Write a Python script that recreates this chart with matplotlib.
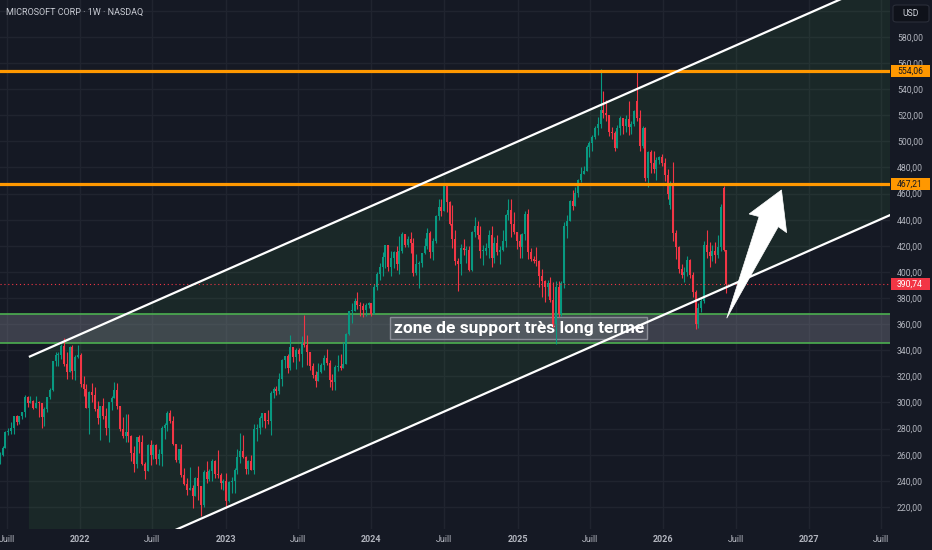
import numpy as np
import pandas as pd
import matplotlib
matplotlib.use("Agg")
import matplotlib.pyplot as plt
import matplotlib.dates as mdates
import matplotlib.transforms as mtransforms
from matplotlib.patches import Rectangle, Polygon, FancyBboxPatch

plt.rcParams['font.family'] = ['Roboto', 'DejaVu Sans']

# ---------------- DATA (weekly MSFT candles, week starting Monday) ----------------
FIRST_WEEK = '2021-06-14'

close_2021 = [259.4, 265.0, 277.7, 277.9, 280.8, 289.7, 284.9, 289.5, 292.9, 304.4, 299.7, 301.1, 295.7,
              299.9, 299.4, 289.1, 294.9, 304.2, 309.2, 331.6, 336.1, 336.7, 343.1, 329.7, 323.0, 342.5,
              323.8, 334.7, 336.3]
high_2021 = [262.3, 266.8, 278.0, 280.7, 285.0, 290.0, 290.2, 289.6, 293.0, 305.8, 305.3, 305.2, 302.1,
             305.3, 301.0, 299.3, 296.6, 304.5, 311.1, 332.0, 338.8, 338.9, 345.1, 349.7, 339.0, 343.0,
             344.3, 336.4, 343.8]
low_2021 = [253.2, 259.0, 265.5, 275.0, 276.0, 275.6, 283.0, 283.5, 287.0, 288.6, 296.8, 300.5, 295.0,
            297.0, 289.0, 280.3, 282.0, 292.8, 302.7, 308.5, 328.0, 328.3, 333.5, 328.1, 318.0, 323.0,
            318.3, 317.3, 334.3]

close_2022 = [314.0, 310.2, 296.0, 308.3, 305.9, 295.0, 287.9, 297.3, 289.9, 280.1, 300.4, 303.7, 309.4,
              297.0, 279.8, 274.0, 277.5, 274.7, 261.1, 252.6, 273.2, 270.0, 253.0, 247.7, 267.7, 259.6,
              267.7, 256.7, 260.4, 280.7, 282.9, 291.9, 286.2, 268.1, 256.1, 264.5, 244.7, 237.9, 232.9,
              234.2, 228.6, 242.1, 235.9, 221.4, 247.1, 241.2, 247.5, 255.0, 245.4, 244.7, 238.7, 239.8]
high_2022 = [338.0, 320.0, 313.9, 308.5, 315.1, 311.9, 300.9, 297.6, 303.1, 295.7, 300.7, 305.0, 316.0,
             315.1, 292.0, 289.0, 291.0, 290.9, 274.9, 266.9, 273.3, 275.0, 275.0, 254.7, 268.0, 271.4,
             268.2, 268.0, 264.0, 282.0, 284.3, 293.3, 294.2, 290.0, 267.5, 264.7, 268.0, 250.0, 242.0,
             250.3, 236.9, 243.0, 251.0, 236.0, 248.0, 255.0, 248.7, 256.5, 256.0, 263.9, 245.7, 241.5]
low_2022 = [311.5, 304.7, 295.6, 276.1, 300.0, 293.3, 283.8, 271.5, 287.6, 275.0, 270.0, 294.3, 304.7,
            295.2, 278.3, 273.0, 270.0, 270.0, 255.4, 246.4, 249.5, 261.2, 252.0, 241.5, 247.7, 252.5,
            256.6, 252.6, 252.0, 251.2, 271.7, 278.0, 284.3, 267.3, 254.3, 253.3, 242.8, 236.6, 229.0,
            233.0, 219.1, 230.6, 225.0, 213.4, 220.0, 238.0, 239.5, 239.8, 242.2, 242.1, 233.9, 233.3]

close_2023 = [224.9, 239.2, 240.2, 248.2, 258.4, 263.1, 258.1, 249.2, 255.3, 248.6, 279.4, 280.6, 288.3,
              291.6, 286.1, 285.8, 307.3, 310.7, 309.0, 318.3, 332.9, 335.4, 326.8, 342.3, 335.0, 340.5,
              337.2, 345.2, 343.8, 338.4, 327.8, 321.0, 316.5, 323.0, 328.7, 334.3, 330.2, 317.0, 315.8,
              327.3, 327.7, 326.7, 329.8, 352.8, 369.7, 369.9, 377.4, 374.5, 374.2, 370.7, 374.6, 376.0]
high_2023 = [245.8, 239.9, 243.3, 249.8, 264.7, 276.8, 275.0, 259.0, 255.9, 260.1, 283.3, 283.3, 289.3,
             292.1, 291.4, 294.0, 308.9, 312.0, 313.0, 322.6, 333.4, 335.9, 337.5, 351.5, 342.7, 342.0,
             341.6, 351.3, 366.8, 351.9, 338.5, 330.5, 324.4, 330.2, 330.2, 336.2, 340.9, 332.6, 322.0,
             329.0, 336.1, 336.9, 346.2, 353.0, 370.1, 376.4, 379.8, 384.3, 377.1, 376.0, 376.4, 377.0]
low_2023 = [219.4, 223.9, 230.9, 230.9, 245.5, 253.5, 257.6, 245.6, 245.6, 248.0, 245.5, 270.8, 275.5,
            281.2, 280.6, 283.2, 275.4, 303.4, 306.1, 306.7, 313.0, 326.5, 322.6, 325.2, 331.4, 326.0,
            332.1, 327.0, 342.2, 329.0, 324.8, 318.6, 311.6, 317.6, 322.3, 325.0, 328.5, 312.1, 309.5,
            309.6, 324.2, 325.0, 326.2, 331.6, 351.9, 361.1, 371.3, 371.3, 366.5, 365.8, 365.9, 372.0]

close_2024 = [367.8, 388.5, 398.7, 403.9, 411.2, 420.6, 404.1, 410.3, 415.5, 406.2, 416.4, 428.7, 420.7,
              425.5, 421.9, 399.1, 406.3, 406.7, 414.7, 420.2, 430.2, 415.1, 423.9, 442.6, 449.8, 447.0,
              467.6, 453.6, 437.1, 425.3, 408.5, 406.0, 418.5, 416.8, 417.1, 401.7, 430.6, 435.3, 428.0,
              416.1, 416.3, 418.2, 428.2, 410.4, 422.5, 415.0, 417.0, 423.5, 443.6, 447.3, 436.6, 430.5,
              423.4]
high_2024 = [373.3, 390.7, 400.0, 407.0, 415.3, 420.8, 415.9, 415.9, 415.9, 420.0, 427.8, 430.8, 429.2,
             427.9, 430.3, 426.0, 413.7, 408.2, 414.8, 426.2, 433.6, 431.6, 426.3, 443.4, 456.2, 456.2,
             468.4, 467.7, 454.0, 451.0, 432.0, 410.6, 421.2, 425.0, 419.5, 419.5, 431.2, 441.8, 439.0,
             435.0, 421.0, 422.5, 431.9, 435.0, 426.9, 428.0, 419.8, 432.0, 444.0, 456.2, 456.0, 446.1,
             429.0]
low_2024 = [366.5, 369.0, 386.0, 393.6, 397.2, 403.4, 401.0, 397.2, 403.4, 401.7, 398.4, 414.7, 419.2,
            419.0, 414.3, 397.2, 398.0, 388.0, 403.6, 414.0, 417.7, 410.9, 408.9, 422.4, 439.8, 442.8,
            446.4, 445.6, 436.1, 418.0, 405.5, 385.6, 397.8, 413.0, 406.7, 401.0, 400.8, 427.0, 425.0,
            410.3, 405.0, 412.8, 411.0, 403.9, 406.9, 413.0, 406.0, 416.0, 419.0, 440.1, 426.6, 429.0,
            417.4]

close_2025 = [419.0, 429.0, 444.1, 415.1, 409.8, 408.4, 408.2, 397.0, 393.3, 388.6, 391.3, 378.8, 359.8,
              388.5, 367.8, 391.9, 435.3, 438.7, 454.3, 450.2, 460.4, 470.4, 475.0, 477.4, 495.9, 498.8,
              503.3, 510.1, 513.7, 524.1, 522.0, 520.2, 507.2, 506.7, 495.0, 509.9, 517.9, 511.5, 517.4,
              511.0, 513.6, 523.6, 517.8, 496.8, 510.2, 472.1, 492.0, 483.2, 478.5, 485.9, 487.7, 483.6]
high_2025 = [429.0, 429.5, 447.0, 448.4, 418.5, 412.2, 419.3, 409.0, 402.2, 394.0, 394.0, 396.0, 392.0,
             393.0, 392.9, 393.0, 438.4, 443.7, 454.9, 462.5, 465.3, 470.9, 480.4, 481.5, 497.0, 500.1,
             505.0, 512.1, 518.3, 555.5, 538.8, 531.6, 520.0, 511.0, 508.0, 512.5, 519.3, 517.7, 520.5,
             531.0, 516.0, 524.0, 553.7, 524.0, 511.5, 511.0, 492.5, 493.5, 493.0, 488.0, 489.0, 490.0]
low_2025 = [410.7, 410.7, 424.1, 410.0, 408.1, 407.0, 404.7, 388.6, 381.0, 376.9, 381.5, 376.9, 357.7,
            344.8, 365.7, 366.0, 388.0, 426.0, 439.8, 447.6, 455.1, 457.5, 469.0, 475.7, 478.0, 488.0,
            493.0, 502.0, 505.2, 509.9, 518.1, 516.0, 504.0, 502.0, 492.4, 496.0, 505.0, 506.0, 507.0,
            505.0, 506.0, 511.6, 516.0, 493.0, 495.0, 470.0, 464.9, 476.0, 475.8, 470.7, 483.0, 481.0]

close_2026 = [474.0, 460.0, 466.0, 430.0, 419.0, 402.0, 398.0, 400.0, 409.0, 398.0, 385.0, 360.0, 372.0,
              378.0, 421.0, 415.0, 412.0, 416.0, 413.0, 419.0, 450.0, 417.0, 390.74]
high_2026 = [487.0, 479.0, 470.0, 484.0, 432.0, 420.0, 406.0, 404.0, 412.0, 410.0, 400.0, 386.0, 376.0,
             381.0, 424.0, 432.0, 423.0, 421.0, 423.0, 428.0, 452.0, 466.0, 416.0]
low_2026 = [470.0, 456.0, 448.0, 424.0, 410.0, 399.0, 395.0, 392.0, 397.0, 395.0, 381.0, 356.0, 357.0,
            369.0, 376.0, 411.0, 404.0, 408.0, 407.0, 411.0, 416.0, 416.0, 384.0]

# weekly opens equal the previous close except for these gap weeks
open_overrides = {'2021-06-14': 257.9, '2025-10-27': 531.0, '2026-01-19': 451.0, '2026-06-01': 464.0}

# horizontal levels and zone
resistance_levels = [554.06, 467.21]
last_price = 390.74
support_zone = (345.7, 367.8)
support_label = "zone de support très long terme"
title_text = "MICROSOFT CORP · 1W · NASDAQ"
y_ticks = list(range(220, 601, 20))
month_label = "Juill"

# ---------------- build series ----------------
close = np.array(close_2021 + close_2022 + close_2023 + close_2024 + close_2025 + close_2026)
high = np.array(high_2021 + high_2022 + high_2023 + high_2024 + high_2025 + high_2026)
low = np.array(low_2021 + low_2022 + low_2023 + low_2024 + low_2025 + low_2026)
n = min(len(close), len(high), len(low))
close, high, low = close[:n], high[:n], low[:n]
dates = pd.date_range(FIRST_WEEK, periods=n, freq='W-MON')
opens = np.r_[close[0], close[:-1]].astype(float)
for d, v in open_overrides.items():
    idx = np.where(dates == pd.Timestamp(d))[0]
    if len(idx):
        opens[idx[0]] = v
high = np.maximum(high, np.maximum(opens, close))
low = np.minimum(low, np.minimum(opens, close))
xd = mdates.date2num(dates)

# ---------------- figure ----------------
W, H, DPI = 932, 550, 100
BG = '#151924'
GRID = '#20242f'
TXT = '#b2b5be'
UP, DOWN = '#089981', '#f23645'

fig = plt.figure(figsize=(W / DPI, H / DPI), dpi=DPI)
fig.patch.set_facecolor(BG)
ax = fig.add_axes([0, 21 / H, 890 / W, 529 / H])
ax.set_facecolor(BG)
for s in ax.spines.values():
    s.set_visible(False)

d0 = mdates.date2num(pd.Timestamp('2022-01-01'))
px_per_day = 729.0 / 1826.0
ax.set_xlim(d0 - 80 / px_per_day, d0 + 810 / px_per_day)
ax.set_ylim(203.1, 608.3)

# grid / ticks
tick_dates = []
tick_labels = []
for yr in range(2021, 2028):
    if yr > 2021:
        tick_dates.append(pd.Timestamp(f'{yr}-01-01'))
        tick_labels.append(str(yr))
    tick_dates.append(pd.Timestamp(f'{yr}-07-01'))
    tick_labels.append(month_label)
ax.set_xticks(mdates.date2num(tick_dates))
ax.set_xticklabels(tick_labels)
for t, lab in zip(ax.get_xticklabels(), tick_labels):
    if lab != month_label:
        t.set_fontweight('bold')
ax.set_yticks(y_ticks)
ax.set_yticklabels([f"{v},00" if v <= 580 else "" for v in y_ticks])
ax.yaxis.tick_right()
ax.tick_params(axis='x', length=0, pad=4.5, colors=TXT, labelsize=6.5)
ax.tick_params(axis='y', length=0, pad=5.0, colors=TXT, labelsize=6.2)
ax.grid(True, color=GRID, linewidth=1.0, zorder=0)
ax.set_axisbelow(True)

# channel
ch_start = mdates.date2num(pd.Timestamp('2021-08-26'))
ch_end = mdates.date2num(pd.Timestamp('2027-03-17'))
up_start, up_end = 334.9, 608.3
ch_width = 182.0
slope = (up_end - up_start) / (ch_end - ch_start)
far = mdates.date2num(pd.Timestamp('2028-06-01'))
up_far = up_start + slope * (far - ch_start)
poly = Polygon([(ch_start, up_start), (far, up_far), (far, up_far - ch_width), (ch_start, up_start - ch_width)],
               closed=True, facecolor='#4caf50', alpha=0.10, edgecolor='none', zorder=1)
ax.add_patch(poly)

# support zone
zone = Rectangle((ax.get_xlim()[0] - 10, support_zone[0]), far - ax.get_xlim()[0] + 20,
                 support_zone[1] - support_zone[0], facecolor=(0.47, 0.48, 0.53, 0.40),
                 edgecolor='none', zorder=2)
ax.add_patch(zone)
for lvl in support_zone:
    ax.axhline(lvl, color='#4caf50', linewidth=1.2, zorder=2.5)

# label
ax.text(mdates.date2num(pd.Timestamp('2025-01-04')), 357.0, support_label, ha='center', va='center',
        fontsize=12.5, fontweight='bold', color='white', zorder=4,
        bbox=dict(boxstyle='square,pad=0.2', facecolor=(0.55, 0.56, 0.6, 0.25), edgecolor='#8a8d96',
                  linewidth=1.0))

# candles
colors = np.where(close >= opens, UP, DOWN)
ax.vlines(xd, low, high, colors=colors, linewidth=0.8, zorder=5)
body_bottom = np.minimum(opens, close)
body_h = np.maximum(np.abs(close - opens), 0.8)
ax.bar(xd, body_h, bottom=body_bottom, width=5.0, color=colors, linewidth=0, zorder=5.5)

# resistance lines
for lvl in resistance_levels:
    ax.axhline(lvl, color='#ff9800', linewidth=2.3, zorder=6)

# last price dotted line
ax.axhline(last_price, color=DOWN, linewidth=0.8, linestyle=(0, (1, 2.5)), zorder=6)

# channel lines
ax.plot([ch_start, far], [up_start, up_far], color='white', linewidth=1.6, zorder=7, solid_capstyle='butt')
ax.plot([ch_start, far], [up_start - ch_width, up_far - ch_width], color='white', linewidth=1.6, zorder=7,
        solid_capstyle='butt')

# arrow
arrow_pts = [('2026-06-09', 364.6), ('2026-08-29', 442.4), ('2026-08-04', 444.4), ('2026-10-24', 462.8),
             ('2026-11-06', 430.1), ('2026-10-16', 434.7)]
arr = Polygon([(mdates.date2num(pd.Timestamp(d)), p) for d, p in arrow_pts], closed=True,
              facecolor='white', edgecolor='white', linewidth=0.5, zorder=8)
ax.add_patch(arr)

# price tags on the axis
blend = mtransforms.blended_transform_factory(fig.transFigure, ax.transData)
tag_h = 11.5 / 1.3056
for lvl, fc, tc in [(resistance_levels[0], '#ff9800', '#131722'), (resistance_levels[1], '#ff9800', '#131722'),
                    (last_price, DOWN, 'white')]:
    r = Rectangle((891 / W, lvl - tag_h / 2), 39 / W, tag_h, transform=blend, facecolor=fc,
                  edgecolor='none', clip_on=False, zorder=10)
    fig.add_artist(r)
    fig.text(897 / W, lvl, f"{lvl:.2f}".replace('.', ','), transform=blend, ha='left', va='center',
             fontsize=6.2, color=tc, zorder=11)

# USD box
usd = FancyBboxPatch((893 / W, 1 - 22 / H), 36 / W, 17 / H, boxstyle='round,pad=0,rounding_size=0.004',
                     transform=fig.transFigure, facecolor='#0f121a', edgecolor='#2a2e39', linewidth=0.8)
fig.add_artist(usd)
fig.text(911 / W, 1 - 13.5 / H, 'USD', ha='center', va='center', fontsize=6.2, color='#d1d4dc')

# title
fig.text(6 / W, 1 - 12.7 / H, title_text, ha='left', va='center', fontsize=6.5, color='#c9ccd4')

fig.savefig('out.png', dpi=DPI, facecolor=BG)
